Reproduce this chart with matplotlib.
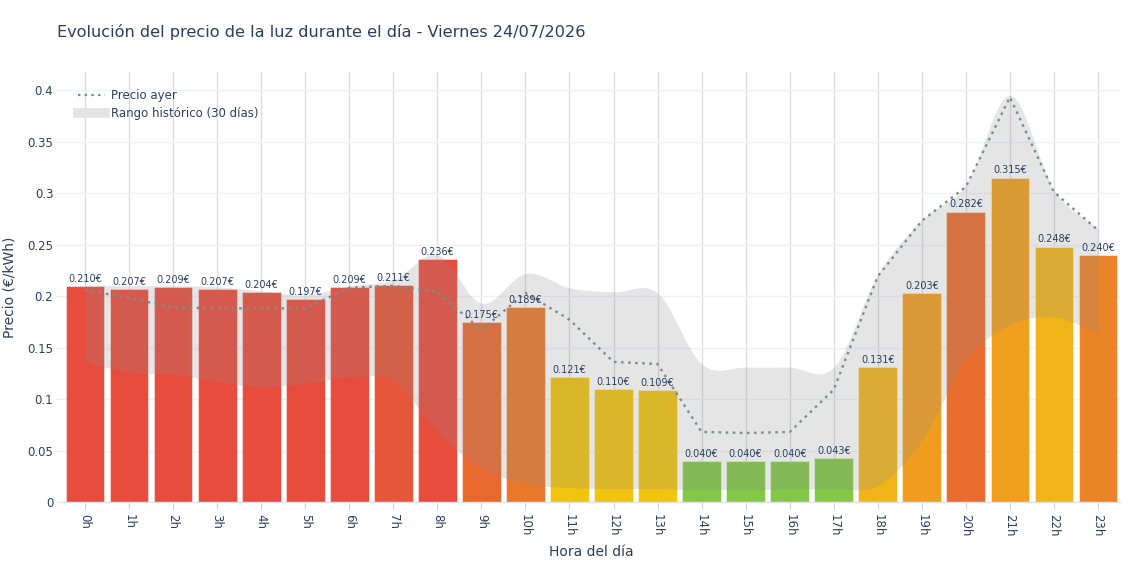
import numpy as np
import matplotlib
matplotlib.use("Agg")
import matplotlib.pyplot as plt
from matplotlib.lines import Line2D

hours = [f"{h}h" for h in range(24)]
prices = [0.210, 0.207, 0.209, 0.207, 0.204, 0.197, 0.209, 0.211, 0.236, 0.175,
          0.189, 0.121, 0.110, 0.109, 0.040, 0.040, 0.040, 0.043, 0.131, 0.203,
          0.282, 0.315, 0.248, 0.240]
bar_colors = ["#e74c3c", "#e74c3c", "#e74c3c", "#e74c3c", "#e74c3c", "#e74c3c",
              "#e74c3c", "#e65639", "#e74c3c", "#e8682e", "#ea782b", "#f1c40f",
              "#f1c40f", "#f1c40f", "#82c846", "#82c846", "#82c846", "#82c846",
              "#f0b419", "#f09c1e", "#e96d2d", "#ef9f1d", "#f0b419", "#eb8329"]
yesterday = [0.206, 0.198, 0.189, 0.188, 0.188, 0.188, 0.208, 0.210, 0.204, 0.167,
             0.203, 0.177, 0.136, 0.134, 0.068, 0.067, 0.068, 0.109, 0.219, 0.273,
             0.306, 0.393, 0.301, 0.264]
hist_max = [0.210, 0.210, 0.210, 0.209, 0.205, 0.201, 0.210, 0.216, 0.240, 0.193,
            0.222, 0.208, 0.204, 0.203, 0.134, 0.131, 0.131, 0.131, 0.221, 0.274,
            0.308, 0.395, 0.303, 0.265]
hist_min = [0.136, 0.126, 0.124, 0.117, 0.112, 0.115, 0.121, 0.118, 0.068, 0.033,
            0.018, 0.014, 0.013, 0.013, 0.012, 0.012, 0.013, 0.013, 0.016, 0.060,
            0.138, 0.172, 0.180, 0.164]

TXT = "#2a3f5f"


def spline(xs, ys, n=24):
    xs = np.asarray(xs, float)
    ys = np.asarray(ys, float)
    pts = np.column_stack([xs, ys])
    ext = np.vstack([2 * pts[0] - pts[1], pts, 2 * pts[-1] - pts[-2]])
    out = []
    t = np.linspace(0, 1, n, endpoint=False)[:, None]
    for i in range(1, len(ext) - 2):
        p0, p1, p2, p3 = ext[i - 1], ext[i], ext[i + 1], ext[i + 2]
        seg = 0.5 * ((2 * p1) + (-p0 + p2) * t + (2 * p0 - 5 * p1 + 4 * p2 - p3) * t ** 2
                     + (-p0 + 3 * p1 - 3 * p2 + p3) * t ** 3)
        out.append(seg)
    out.append(pts[-1][None, :])
    out = np.vstack(out)
    return out[:, 0], out[:, 1]


fig = plt.figure(figsize=(11.4, 5.7), dpi=100)
ax = fig.add_axes([63 / 1140, 68 / 570, (1120 - 63) / 1140, (502 - 72) / 570])

x = np.arange(len(hours))
ax.set_xlim(-0.5, 23.5)
ax.set_ylim(0, 0.4175)

ax.set_axisbelow(True)
for xi in x:
    ax.axvline(xi, color="#dcdce0", lw=1.0, zorder=0)
for yv in np.arange(0.05, 0.41, 0.05):
    ax.axhline(yv, color="#edf1f7", lw=1.0, zorder=0)

ax.bar(x, prices, width=0.88, color=bar_colors, edgecolor=(1, 1, 1, 0.45),
       linewidth=0.8, zorder=2)

xs, up = spline(x, hist_max)
_, lo = spline(x, hist_min)
ax.fill_between(xs, lo, up, color="#8c8c8c", alpha=0.22, linewidth=0, zorder=3)

ax.plot(x, yesterday, color="#7f8c8d", lw=1.7, linestyle=(0, (1.1, 1.9)), zorder=4)

for xi, p in zip(x, prices):
    ax.annotate(f"{p:.3f}€", (xi, p), xytext=(0, 1.5), textcoords="offset points",
                ha="center", va="bottom", fontsize=7, color=TXT, zorder=5)

ax.set_xticks(x)
ax.set_xticklabels(hours, rotation=-90, fontsize=8.5, color=TXT)
yt = [0, 0.05, 0.1, 0.15, 0.2, 0.25, 0.3, 0.35, 0.4]
ax.set_yticks(yt)
ax.set_yticklabels(["0", "0.05", "0.1", "0.15", "0.2", "0.25", "0.3", "0.35", "0.4"],
                   fontsize=8.5, color=TXT)
ax.tick_params(axis="x", length=5, color="#d0d0d8", pad=4)
ax.tick_params(axis="y", length=5, color="#e8ecf3", pad=2)
for s in ["top", "right", "left"]:
    ax.spines[s].set_visible(False)
ax.spines["bottom"].set_color("#e0e0e6")
ax.spines["bottom"].set_linewidth(1.0)

ax.set_xlabel("Hora del día", fontsize=10, color=TXT, labelpad=6)
ax.set_ylabel("Precio (€/kWh)", fontsize=10, color=TXT, labelpad=8)

fig.text(57 / 1140, 1 - 32 / 570, "Evolución del precio de la luz durante el día - Viernes 24/07/2026",
         fontsize=11.6, color=TXT, ha="left", va="center")

handles = [Line2D([0], [0], color="#7f8c8d", lw=1.6, linestyle=(0, (1.1, 1.9))),
           Line2D([0], [0], color="#e3e3e3", lw=7)]
leg = ax.legend(handles, ["Precio ayer", "Rango histórico (30 días)"], loc="upper left",
                bbox_to_anchor=(0.004, 0.985), frameon=False, fontsize=8.5,
                handlelength=2.3, handletextpad=0.5, labelspacing=0.45,
                labelcolor=TXT)

fig.savefig("out.png", dpi=100)
